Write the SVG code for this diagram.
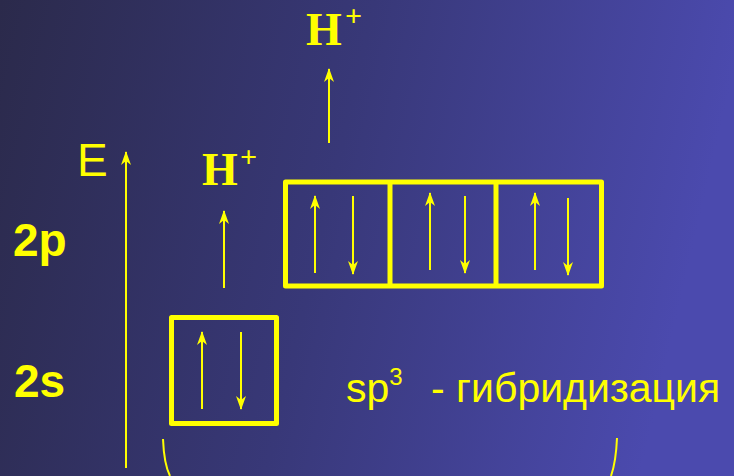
<svg xmlns="http://www.w3.org/2000/svg" width="734" height="476" viewBox="0 0 734 476">
<defs>
<linearGradient id="bg" x1="0" y1="0" x2="1" y2="0.15">
<stop offset="0" stop-color="#2b2a4b"/>
<stop offset="0.5" stop-color="#383878"/>
<stop offset="1" stop-color="#4b4aae"/>
</linearGradient>
<marker id="ah" viewBox="0 0 14 10" refX="13" refY="5" markerWidth="14" markerHeight="10" markerUnits="userSpaceOnUse" orient="auto">
<path d="M14,5 L0,0 L4,5 L0,10 Z" fill="#ffff00"/>
</marker>
<style>
.ln{stroke:#ffff00;stroke-width:2;fill:none}
.box{stroke:#ffff00;stroke-width:5;fill:none;stroke-linejoin:round}
.lbl{font-family:"Liberation Sans",Arial,sans-serif;fill:#ffff00}
.hp{font-family:"Liberation Serif","Times New Roman",serif;fill:#ffff00;font-weight:bold}
</style>
</defs>
<rect x="0" y="0" width="734" height="476" fill="url(#bg)"/>
<g id="connectors">
<line id="axis" class="ln" x1="126" y1="468" x2="126" y2="152" marker-end="url(#ah)"/>
<line class="ln" x1="224" y1="288" x2="224" y2="211" marker-end="url(#ah)"/>
<line class="ln" x1="329" y1="143" x2="329" y2="69" marker-end="url(#ah)"/>
<path class="ln" d="M163,439 Q164,464 170,476"/>
<path class="ln" d="M617,438 Q616,462 611,476"/>
</g>
<g id="label-E"><text class="lbl" x="77" y="176" font-size="46">E</text></g>
<g id="label-2p"><text class="lbl" x="13" y="256" font-size="46" font-weight="bold">2p</text></g>
<g id="label-2s"><text class="lbl" x="14" y="397" font-size="46" font-weight="bold">2s</text></g>
<g id="hplus-top"><text class="hp" x="306" y="45" font-size="46">H</text><text class="hp" x="345" y="26" font-size="30" font-weight="normal">+</text></g>
<g id="hplus-low"><text class="hp" x="202" y="185" font-size="46">H</text><text class="hp" x="240" y="167" font-size="30" font-weight="normal">+</text></g>
<g id="box-2s">
<rect class="box" x="171.5" y="317.5" width="105" height="106"/>
<line class="ln" x1="202" y1="409" x2="202" y2="332" marker-end="url(#ah)"/>
<line class="ln" x1="241" y1="332" x2="241" y2="409" marker-end="url(#ah)"/>
</g>
<g id="box-2p">
<rect class="box" x="285.5" y="182" width="316" height="104"/>
<line class="box" x1="390" y1="182" x2="390" y2="286"/>
<line class="box" x1="496" y1="182" x2="496" y2="286"/>
<line class="ln" x1="315" y1="273" x2="315" y2="196" marker-end="url(#ah)"/>
<line class="ln" x1="353" y1="196" x2="353" y2="274" marker-end="url(#ah)"/>
<line class="ln" x1="430" y1="270" x2="430" y2="193" marker-end="url(#ah)"/>
<line class="ln" x1="465" y1="196" x2="465" y2="273" marker-end="url(#ah)"/>
<line class="ln" x1="535" y1="270" x2="535" y2="193" marker-end="url(#ah)"/>
<line class="ln" x1="568" y1="198" x2="568" y2="275" marker-end="url(#ah)"/>
</g>
<g id="label-sp3"><text class="lbl" x="346" y="402" font-size="41">sp<tspan font-size="24" dy="-17">3</tspan><tspan x="431" dy="17">- гибридизация</tspan></text></g>
</svg>
